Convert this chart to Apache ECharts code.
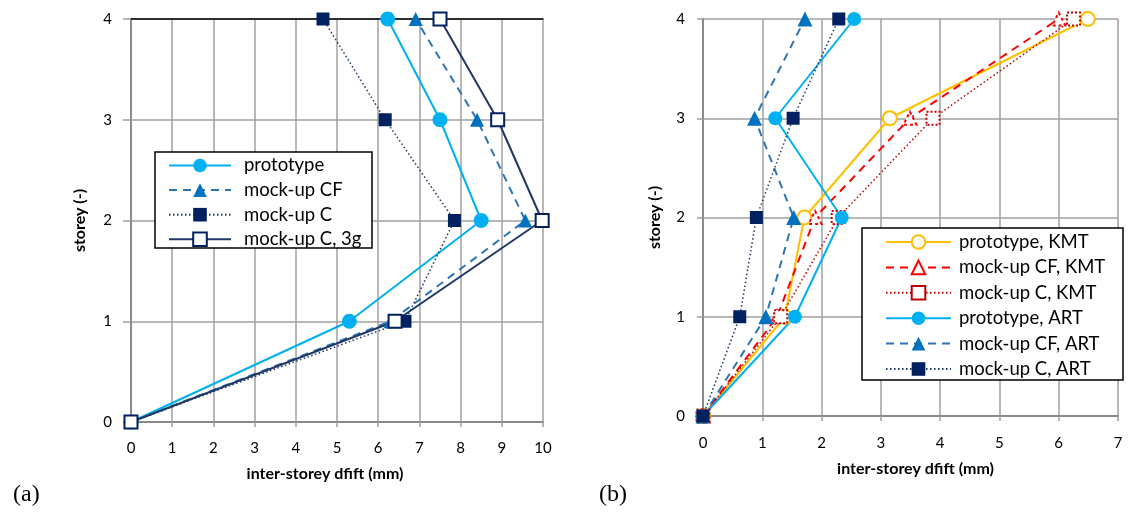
<!DOCTYPE html>
<html>
<head>
<meta charset="utf-8">
<script src="https://cdn.jsdelivr.net/npm/echarts@6/dist/echarts.min.js"></script>
<style>html,body{margin:0;padding:0;background:#fff;}#c{width:1128px;height:513px;}</style>
</head>
<body>
<div id="c"></div>
<script>
// storey levels
var storeys = [0, 1, 2, 3, 4];
// (a) inter-storey drift (mm) per storey 0..4
var protoA   = [0, 5.3, 8.5, 7.5, 6.23];
var cfA      = [0, 6.3, 9.57, 8.4, 6.91];
var cA       = [0, 6.65, 7.85, 6.17, 4.66];
var c3gA     = [0, 6.41, 9.98, 8.9, 7.5];
// (b)
var protoKMT = [0, 1.38, 1.71, 3.15, 6.49];
var cfKMT    = [0, 1.25, 1.89, 3.49, 6.0];
var cKMT     = [0, 1.31, 2.28, 3.88, 6.25];
var protoART = [0, 1.55, 2.34, 1.22, 2.55];
var cfART    = [0, 1.06, 1.53, 0.87, 1.72];
var cART     = [0, 0.62, 0.9, 1.52, 2.29];

var xTicksA = [0,1,2,3,4,5,6,7,8,9,10];
var xTicksB = [0,1,2,3,4,5,6,7];
var yTicks = [0,1,2,3,4];

var namesA = ['prototype', 'mock-up CF', 'mock-up C', 'mock-up C, 3g'];
var namesB = ['prototype, KMT', 'mock-up CF, KMT', 'mock-up C, KMT', 'prototype, ART', 'mock-up CF, ART', 'mock-up C, ART'];

function pairs(xs){ return xs.map(function(x,i){ return [x, storeys[i]]; }); }

var FONT = 'Lato';
var gridColor = '#a0a0a0';
var axisColor = '#8a8a8a';

function xAxisDef(gi, ticks, margin, gap, pad){
  return {
    type: 'value', gridIndex: gi, min: ticks[0], max: ticks[ticks.length-1], interval: 1,
    name: 'inter-storey dfift (mm)', nameLocation: 'middle', nameGap: gap,
    nameTextStyle: {fontFamily: FONT, fontSize: 16, fontWeight: 'bold', color: '#000', padding: pad},
    axisLine: {show: true, onZero: false, lineStyle: {color: axisColor, width: 2}},
    axisTick: {show: true, length: 5, lineStyle: {color: gridColor, width: 1.5}},
    axisLabel: {fontFamily: FONT, fontSize: 15, color: '#000', margin: margin},
    splitLine: {show: true, lineStyle: {color: gridColor, width: 1.5}}
  };
}
function yAxisDef(gi, margin, gap, tickLen){
  return {
    type: 'value', gridIndex: gi, min: 0, max: 4, interval: 1,
    name: 'storey (-)', nameLocation: 'middle', nameGap: gap,
    nameTextStyle: {fontFamily: FONT, fontSize: 16, fontWeight: 'bold', color: '#000'},
    axisLine: {show: true, onZero: false, lineStyle: {color: axisColor, width: 2}},
    axisTick: {show: true, length: tickLen, lineStyle: {color: gridColor, width: 1.5}},
    axisLabel: {fontFamily: FONT, fontSize: 15, color: '#000', margin: margin},
    splitLine: {show: true, lineStyle: {color: gridColor, width: 1.5}}
  };
}

function ser(name, gi, data, color, lineType, lineWidth, symbol, size, itemStyle){
  return {
    name: name, type: 'line', xAxisIndex: gi, yAxisIndex: gi, data: pairs(data),
    symbol: symbol, symbolSize: size, showSymbol: true,
    lineStyle: {color: color, type: lineType, width: lineWidth},
    itemStyle: itemStyle, z: 2, animation: false
  };
}

var navy = '#002060';
var cyan = '#00b0f0';
var blue = '#0070c0';
var blueLine = '#2e75b6';

var series = [
  ser(namesA[0], 0, protoA, cyan, 'solid', 2, 'circle', 15, {color: cyan}),
  ser(namesA[1], 0, cfA, blueLine, [8,6], 2, 'triangle', 14, {color: blue}),
  ser(namesA[2], 0, cA, '#1f3864', [1.5,2.5], 1.5, 'rect', 13, {color: navy}),
  ser(namesA[3], 0, c3gA, '#1f3864', 'solid', 2, 'rect', 13, {color: '#fff', borderColor: navy, borderWidth: 2}),
  ser(namesB[0], 1, protoKMT, '#ffc000', 'solid', 2, 'circle', 14, {color: '#fff', borderColor: '#ffc000', borderWidth: 2}),
  ser(namesB[1], 1, cfKMT, '#ff0000', [8,6], 2, 'triangle', 13, {color: '#fff', borderColor: '#ff0000', borderWidth: 2, borderType: [3,3]}),
  ser(namesB[2], 1, cKMT, '#c00000', [1.5,2.5], 1.5, 'rect', 13, {color: '#fff', borderColor: '#c00000', borderWidth: 2, borderType: [2,2]}),
  ser(namesB[3], 1, protoART, cyan, 'solid', 2, 'circle', 14, {color: cyan}),
  ser(namesB[4], 1, cfART, blueLine, [8,6], 2, 'triangle', 15, {color: blue}),
  ser(namesB[5], 1, cART, '#1f3864', [1.5,2.5], 1.5, 'rect', 13, {color: navy})
];

var option = {
  backgroundColor: '#fff',
  animation: false,
  title: [
    {text: '(a)', left: 8, top: 478, textStyle: {fontFamily: 'Liberation Serif', fontSize: 24, fontWeight: 'normal', color: '#000'}},
    {text: '(b)', left: 594, top: 478, textStyle: {fontFamily: 'Liberation Serif', fontSize: 24, fontWeight: 'normal', color: '#000'}}
  ],
  grid: [
    {left: 131, right: 585, top: 19, bottom: 91},
    {left: 703, right: 10, top: 19, bottom: 97}
  ],
  xAxis: [
    xAxisDef(0, xTicksA, 19, 44, [0, 24, 0, 0]),
    xAxisDef(1, xTicksB, 20, 45, [0, 0, 0, 10]),
    {type: 'value', gridIndex: 0, position: 'top', min: 0, max: 10, axisLine: {show: true, onZero: false, lineStyle: {color: '#000', width: 1.5}}, axisTick: {show: false}, axisLabel: {show: false}, splitLine: {show: false}}
  ],
  yAxis: [
    yAxisDef(0, 19, 43, 8),
    yAxisDef(1, 18, 40, 6)
  ],
  graphic: [
    {type: 'rect', z: 3, shape: {x: 155, y: 152, width: 217, height: 96}, style: {fill: '#fff', stroke: '#000', lineWidth: 1.5}},
    {type: 'rect', z: 3, shape: {x: 862, y: 228, width: 261, height: 152}, style: {fill: '#fff', stroke: '#000', lineWidth: 1.5}}
  ],
  legend: [
    {data: namesA, orient: 'vertical', left: 163, top: 151, padding: 5, itemWidth: 62, itemHeight: 17, itemGap: 5.6,
     textStyle: {fontFamily: FONT, fontSize: 18.5, color: '#000', padding: [0,0,0,8]}, z: 4, selectedMode: false},
    {data: namesB, orient: 'vertical', left: 880, top: 227.5, padding: 5, itemWidth: 65, itemHeight: 17, itemGap: 6.4,
     textStyle: {fontFamily: FONT, fontSize: 18.5, color: '#000', padding: [0,0,0,3]}, z: 4, selectedMode: false}
  ],
  series: series
};

var chart = echarts.init(document.getElementById('c'), null, {renderer: 'canvas'});
chart.setOption(option);
</script>
</body>
</html>
